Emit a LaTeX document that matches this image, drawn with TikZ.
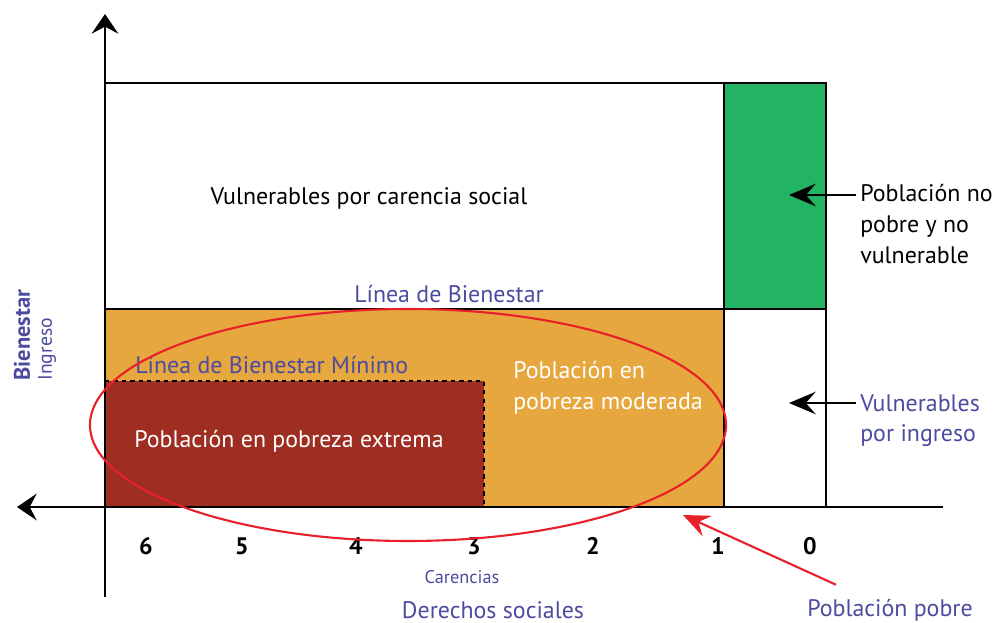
\documentclass[tikz,border=0pt]{standalone}
\usepackage{fontspec}
\setmainfont{PT Sans}
\usetikzlibrary{arrows.meta,calc}
\definecolor{verdeNP}{HTML}{22B463}
\definecolor{naranjaPM}{HTML}{E6A73E}
\definecolor{rojoPE}{HTML}{9E2E22}
\definecolor{azulTxt}{HTML}{4B4BA0}
\definecolor{rojoElip}{HTML}{E8202A}

\begin{document}
\begin{tikzpicture}[x=0.025cm, y=-0.025cm,
	eje/.style={line width=1.5pt, -{Stealth[length=14pt, width=19pt, inset=5pt]}},
	flecha/.style={line width=1.5pt, -{Stealth[length=19pt, width=16pt, inset=7pt]}},
	caja/.style={line width=1.5pt},
	txt/.style={font=\fontsize{17}{22}\selectfont, align=left, inner sep=0pt},
	azul/.style={txt, text=azulTxt}]
	\useasboundingbox (0,0) rectangle (994,623);
	% zonas
	\fill[naranjaPM] (105,309) rectangle (724,507);
	\fill[rojoPE] (105,381) rectangle (484,507);
	\fill[verdeNP] (724,83) rectangle (826,309);
	\draw[caja] (105,83) rectangle (826,507);
	\draw[caja] (105,309) -- (826,309);
	\draw[caja] (724,83) -- (724,507);
	\draw[line width=1.5pt, dashed] (105,381) -- (484,381) -- (484,507);
	% ejes
	\draw[eje] (105,597) -- (105,14);
	\draw[eje] (943,507) -- (17,507);
	\foreach \x/\xtext in {146/6, 242/5, 356/4, 474/3, 593/2, 718/1, 810/0}
		\node[txt, font=\bfseries\fontsize{17}{22}\selectfont] (n\xtext) at (\x,546) {\xtext};
	% textos
	\node[txt] (vulcar) at (369,198) {Vulnerables por carencia social};
	\node[azul] (linbien) at (449,294) {Línea de Bienestar};
	\node[azul, anchor=west] (linmin) at (135,365) {Línea de Bienestar Mínimo};
	\node[txt, text=white] (extrema) at (289,441) {Población en pobreza extrema};
	\node[txt, text=white, anchor=north west] (moderada) at (513,361) {Población en\\pobreza moderada};
	\node[txt, anchor=north west] (nopobre) at (860,184) {Población no\\pobre y no\\vulnerable};
	\node[azul, anchor=north west] (vulingreso) at (860,394) {Vulnerables\\por ingreso};
	\node[azul, font=\bfseries\fontsize{16}{21}\selectfont, rotate=90, anchor=west] (bienestar) at (22,381) {Bienestar};
	\node[azul, font=\fontsize{14}{17}\selectfont, rotate=90, anchor=west] (ingreso) at (47,381) {Ingreso};
	\node[azul, font=\fontsize{13}{16}\selectfont] (carencias) at (462,577) {Carencias};
	\node[azul] (derechos) at (493,610) {Derechos sociales};
	\node[azul] (pobre) at (890,610) {Población pobre};
	% pobreza
	\draw[rojoElip, line width=1.5pt] (408,425) ellipse [x radius=318, y radius=116];
	\coordinate (tipverde) at (789,195);
	\coordinate (tipingreso) at (789,403);
	\coordinate (tiprojo) at (683,515);
	\draw[flecha] ([xshift=-3pt]nopobre.west |- tipverde) -- (tipverde);
	\draw[flecha] ([xshift=-3pt]vulingreso.west |- tipingreso) -- (tipingreso);
	\draw[flecha, rojoElip] ($(pobre.north west)+(29,-14)$) -- (tiprojo);
\end{tikzpicture}
\end{document}
